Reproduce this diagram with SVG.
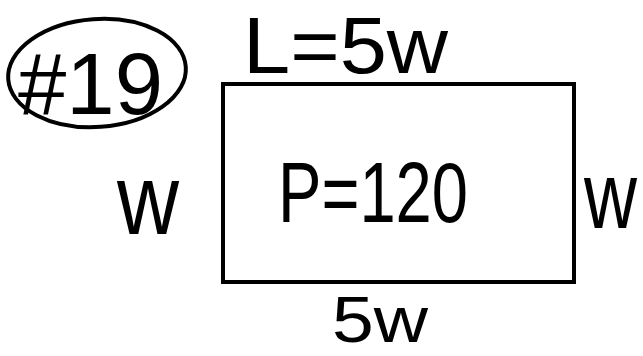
<svg xmlns="http://www.w3.org/2000/svg" width="643" height="356" viewBox="0 0 643 356">
<style>
.t{font-family:"Liberation Sans","DejaVu Sans",sans-serif;fill:#000;}
.s{fill:none;stroke:#000;stroke-width:4;}
</style>
<rect width="643" height="356" fill="#fff"/>
<g id="label19">
<ellipse class="s" cx="97" cy="73" rx="89" ry="54" transform="rotate(-4 97 73)"/>
<text class="t" x="18" y="114" font-size="88" textLength="145" lengthAdjust="spacingAndGlyphs">#19</text>
</g>
<g id="rect">
<rect class="s" x="223" y="84" width="351" height="198"/>
<text class="t" x="278" y="222" font-size="86" textLength="190" lengthAdjust="spacingAndGlyphs">P=120</text>
</g>
<g id="top"><text class="t" x="243" y="73" font-size="80" textLength="205" lengthAdjust="spacingAndGlyphs">L=5w</text></g>
<g id="left"><text class="t" x="117" y="234" font-size="100" textLength="62" lengthAdjust="spacingAndGlyphs">w</text></g>
<g id="right"><text class="t" transform="translate(584 228) scale(0.78 1)" x="0" y="0" font-size="94">w</text></g>
<g id="bottom"><text class="t" x="332" y="342" font-size="64" textLength="96" lengthAdjust="spacingAndGlyphs">5w</text></g>
</svg>
